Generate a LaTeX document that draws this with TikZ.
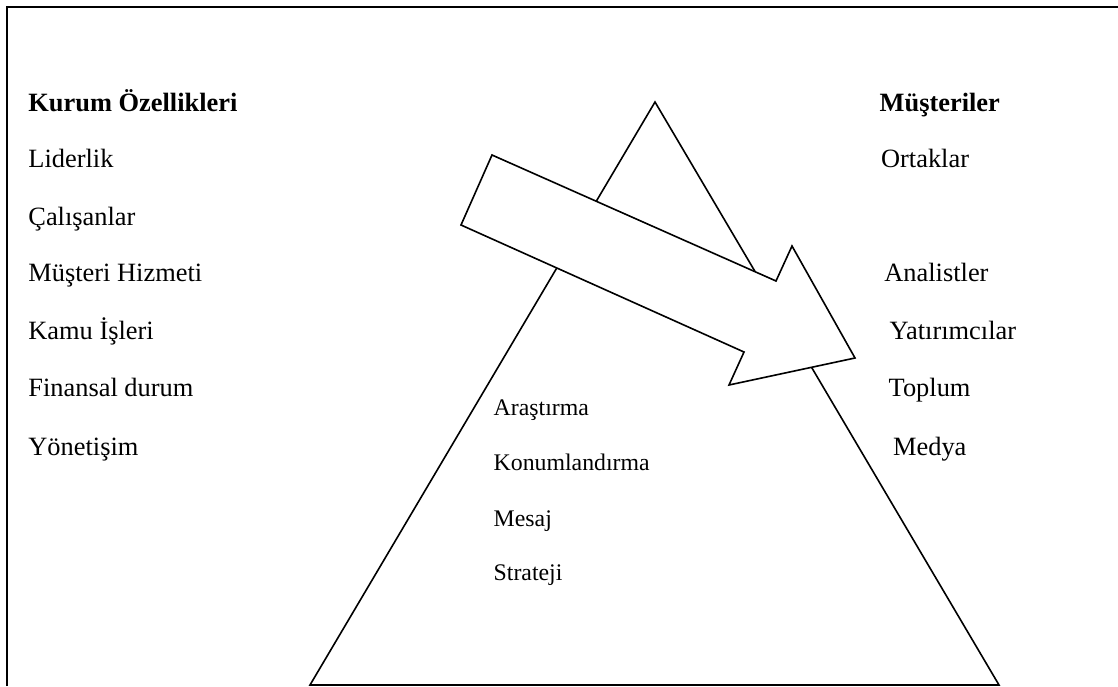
\documentclass[tikz,border=0pt]{standalone}
\usepackage{fontspec}
\setmainfont{Liberation Serif}
\begin{document}
\begin{tikzpicture}[x=0.5pt,y=-0.5pt,
  shape line/.style={line width=0.8pt, line join=miter},
  item/.style={anchor=base west, inner sep=0pt, font=\fontsize{13.2}{15}\selectfont},
  head/.style={item, font=\fontsize{13.2}{15}\selectfont\bfseries},
  core/.style={anchor=base west, inner sep=0pt, font=\fontsize{11.9}{14}\selectfont}]
\useasboundingbox (0,0) rectangle (1118,686);

% open frame: left and top edges only
\draw[line width=1pt] (7,686) -- (7,7) -- (1118,7);

% pyramid
\draw[shape line] (655,102) -- (999,685) -- (310,685) -- cycle;

% broad block arrow laid over the pyramid
\draw[shape line, fill=white]
  (492,155) -- (776,281) -- (792,246) -- (855,358) -- (729,385) -- (744,352) -- (461,225) -- cycle;

% left column
\node[head] (kurum) at (28,111.7) {Kurum Özellikleri};
\node[item] (lider) at (28,167.7) {Liderlik};
\node[item] (calis) at (28,225.7) {Çalışanlar};
\node[item] (hizmet) at (28,281.7) {Müşteri Hizmeti};
\node[item] (kamu) at (28,339.3) {Kamu İşleri};
\node[item] (finans) at (28,396.7) {Finansal durum};
\node[item] (yonet) at (28,455) {Yönetişim};

% right column
\node[head] (musteri) at (879.3,111.7) {Müşteriler};
\node[item] (ortak) at (880.7,167.7) {Ortaklar};
\node[item] (analist) at (884,281.7) {Analistler};
\node[item] (yatirim) at (889.3,339.3) {Yatırımcılar};
\node[item] (toplum) at (888.3,396.7) {Toplum};
\node[item] (medya) at (892.7,455) {Medya};

% inside the pyramid
\node[core] (arastirma) at (493.3,415) {Araştırma};
\node[core] (konum) at (493.3,470.7) {Konumlandırma};
\node[core] (mesaj) at (493.3,526) {Mesaj};
\node[core] (strateji) at (493.3,580) {Strateji};
\end{tikzpicture}
\end{document}
